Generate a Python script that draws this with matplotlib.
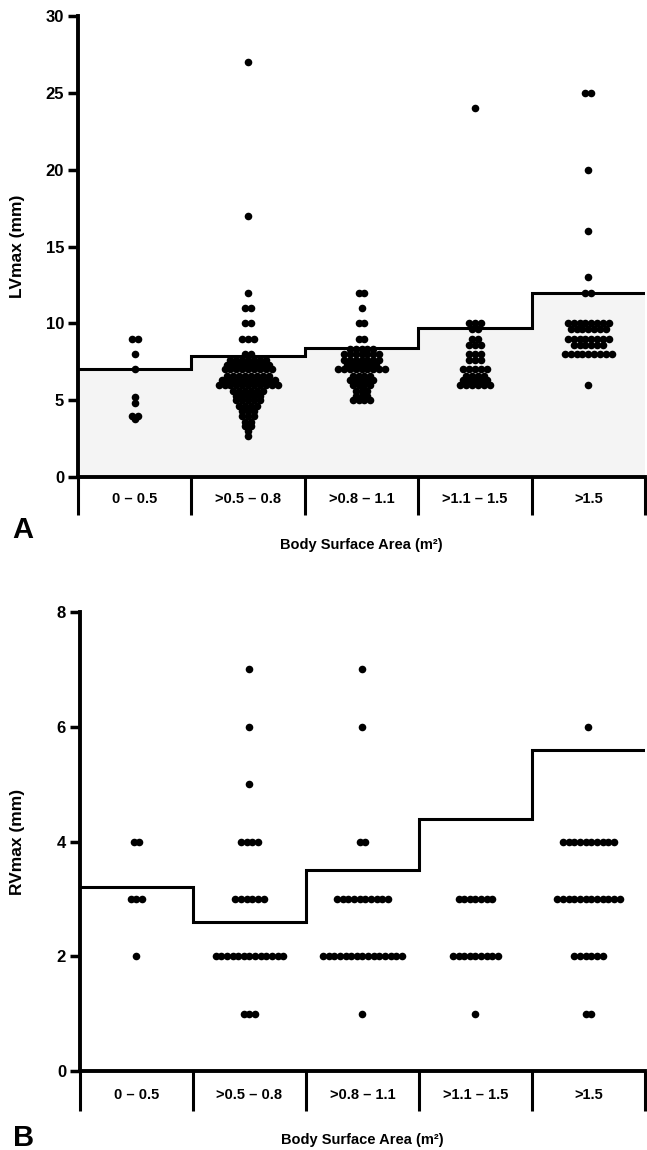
import matplotlib
matplotlib.use('Agg')
import matplotlib.pyplot as plt
import numpy as np

plt.rcParams['font.family'] = ['Liberation Sans', 'DejaVu Sans']
plt.rcParams['font.weight'] = 'bold'

# -------------------------
# data
categories = ['0 – 0.5', '>0.5 – 0.8', '>0.8 – 1.1', '>1.1 – 1.5', '>1.5']

# panel A: LVmax (mm), per category the row values and how many dots in each row
lv_levels = [
    [9, 8, 7, 5.2, 4.8, 4, 3.8],
    [27, 17, 12, 11, 10, 9, 8, 7.6, 7.3, 7, 6.6, 6.3, 6, 5.6, 5.3, 5, 4.6, 4.3, 4, 3.6, 3.3, 3, 2.7],
    [12, 11, 10, 9, 8.3, 8, 7.6, 7.3, 7, 6.6, 6.3, 6, 5.6, 5.3, 5],
    [24, 10, 9.6, 9, 8.6, 8, 7.6, 7, 6.6, 6.3, 6],
    [25, 20, 16, 13, 12, 10, 9.6, 9, 8.6, 8, 6],
]
lv_counts = [
    [2, 1, 1, 1, 1, 2, 1],
    [1, 1, 1, 2, 2, 3, 2, 7, 8, 9, 8, 10, 11, 6, 5, 5, 4, 3, 3, 2, 2, 1, 1],
    [2, 1, 2, 2, 5, 7, 7, 6, 9, 4, 5, 4, 3, 3, 4],
    [1, 3, 2, 2, 3, 3, 3, 5, 4, 5, 6],
    [2, 1, 1, 1, 2, 8, 7, 8, 6, 9, 1],
]
lv_limit = [7.0, 7.9, 8.4, 9.7, 12.0]

# panel B: RVmax (mm)
rv_levels = [
    [4, 3, 2],
    [7, 6, 5, 4, 3, 2, 1],
    [7, 6, 4, 3, 2, 1],
    [3, 2, 1],
    [6, 4, 3, 2, 1],
]
rv_counts = [
    [2, 3, 1],
    [1, 1, 1, 4, 6, 13, 3],
    [1, 1, 2, 10, 15, 1],
    [7, 9, 1],
    [1, 10, 12, 6, 2],
]
rv_limit = [3.2, 2.6, 3.5, 4.4, 5.6]


def dot_positions(levels, counts, center, spacing):
    xs, ys = [], []
    for v, n in zip(levels, counts):
        off = (np.arange(n) - (n - 1) / 2) * spacing
        xs.extend(center + off)
        ys.extend([v] * n)
    return np.array(xs), np.array(ys)


def draw_panel(ax, levels, counts, limit, yticks, spacing, ylabel, shade, label_pad, sep_len):
    edges = np.arange(len(categories) + 1)
    if shade:
        # faint stippled area under the limit line
        ax.stairs(limit, edges, baseline=0, fill=True, color='0.955', lw=0, zorder=1)
    ax.stairs(limit, edges, baseline=None, color='black', lw=2.2, zorder=2)
    for i in range(len(categories)):
        xs, ys = dot_positions(levels[i], counts[i], i + 0.5, spacing)
        ax.scatter(xs, ys, s=30, color='black', lw=0, zorder=3, clip_on=False)

    ax.set_xlim(0, len(categories))
    ax.set_ylim(0, yticks[-1])
    for s in ['top', 'right']:
        ax.spines[s].set_visible(False)
    for s in ['left', 'bottom']:
        ax.spines[s].set_linewidth(2.8)

    ax.set_yticks(yticks)
    ax.tick_params(axis='y', length=7, width=2.5, labelsize=12, pad=3)
    ax.set_xticks(np.arange(len(categories)) + 0.5)
    ax.set_xticklabels(categories)
    ax.set_xticks(edges, minor=True)
    ax.tick_params(axis='x', which='major', length=0, labelsize=10.5, pad=label_pad)
    ax.tick_params(axis='x', which='minor', length=sep_len, width=2.2)

    ax.set_ylabel(ylabel, fontsize=12.5, fontweight='bold')
    ax.set_xlabel('Body Surface Area (m²)', fontsize=10.5, fontweight='bold')


fig = plt.figure(figsize=(6.47, 11.5), dpi=100)
axA = fig.add_axes([0.1206, 0.5852, 0.8764, 0.4009])
axB = fig.add_axes([0.1236, 0.0687, 0.8733, 0.3991])

draw_panel(axA, lv_levels, lv_counts, lv_limit, [0, 5, 10, 15, 20, 25, 30], 0.052,
           'LVmax (mm)', True, 10.5, 27)
draw_panel(axB, rv_levels, rv_counts, rv_limit, [0, 2, 4, 6, 8], 0.05,
           'RVmax (mm)', False, 12.5, 29)

axA.yaxis.set_label_coords(-0.0935, 0.5)
axB.yaxis.set_label_coords(-0.097, 0.5)
axA.xaxis.set_label_coords(0.5, -0.133)
axB.xaxis.set_label_coords(0.5, -0.135)

fig.text(23 / 647, 1 - 530 / 1150, 'A', fontsize=21, fontweight='bold', ha='center', va='center')
fig.text(24 / 647, 1 - 1138 / 1150, 'B', fontsize=21, fontweight='bold', ha='center', va='center')

fig.savefig('out.png', dpi=100)
plt.close(fig)
